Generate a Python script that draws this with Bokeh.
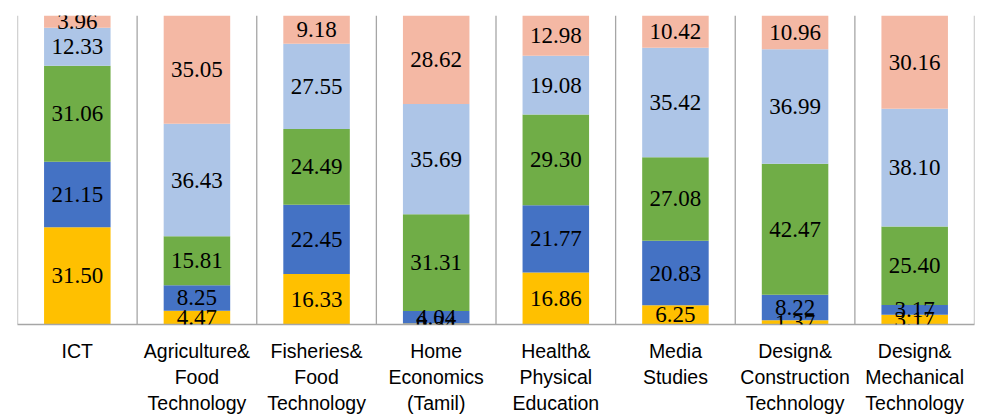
from bokeh.plotting import figure
from bokeh.models import ColumnDataSource, Range1d, Span, LabelSet
from bokeh.embed import file_html
from bokeh.resources import INLINE

categories = ["ICT", "Agriculture&\nFood\nTechnology", "Fisheries&\nFood\nTechnology",
              "Home\nEconomics\n(Tamil)", "Health&\nPhysical\nEducation", "Media\nStudies",
              "Design&\nConstruction\nTechnology", "Design&\nMechanical\nTechnology"]
s1 = [31.50, 4.47, 16.33, 0.34, 16.86, 6.25, 1.37, 3.17]
s2 = [21.15, 8.25, 22.45, 4.04, 21.77, 20.83, 8.22, 3.17]
s3 = [31.06, 15.81, 24.49, 31.31, 29.30, 27.08, 42.47, 25.40]
s4 = [12.33, 36.43, 27.55, 35.69, 19.08, 35.42, 36.99, 38.10]
s5 = [3.96, 35.05, 9.18, 28.62, 12.98, 10.42, 10.96, 30.16]
series = [s1, s2, s3, s4, s5]
colors = ["#FFC000", "#4472C4", "#70AD47", "#ADC5E7", "#F4B8A4"]

p = figure(x_range=categories, y_range=Range1d(0, 100), width=981, height=417,
           output_backend="svg", toolbar_location=None,
           min_border_left=17, min_border_right=7, min_border_top=15, min_border_bottom=92)
p.outline_line_color = None
p.xgrid.visible = False
p.ygrid.visible = False
p.yaxis.visible = False

bottom = [0.0] * len(categories)
lx, ly, lt = [], [], []
for vals, col in zip(series, colors):
    top = [b + v for b, v in zip(bottom, vals)]
    src = ColumnDataSource(dict(x=categories, bottom=bottom, top=top))
    p.vbar(x="x", bottom="bottom", top="top", width=0.556, source=src,
           fill_color=col, line_color=None)
    for c, b, v in zip(categories, bottom, vals):
        lx.append(c)
        ly.append(b + v / 2)
        lt.append("%.2f" % v)
    bottom = top

lsrc = ColumnDataSource(dict(x=lx, y=ly, t=lt))
p.add_layout(LabelSet(x="x", y="y", text="t", source=lsrc, text_align="center",
                      text_baseline="middle", text_font="Liberation Sans",
                      text_font_size="23px", text_color="black"))

for i in range(len(categories) + 1):
    p.add_layout(Span(location=i, dimension="height", line_color="#A6A6A6", line_width=1.3))

ax = p.xaxis[0]
ax.axis_line_color = "#A6A6A6"
ax.axis_line_width = 1.5
ax.major_tick_line_color = None
ax.minor_tick_line_color = None
ax.major_label_text_font = "Liberation Sans"
ax.major_label_text_font_size = "19.5px"
ax.major_label_text_color = "black"
ax.major_label_standoff = 9

open("out.html", "w").write(file_html(p, INLINE))
